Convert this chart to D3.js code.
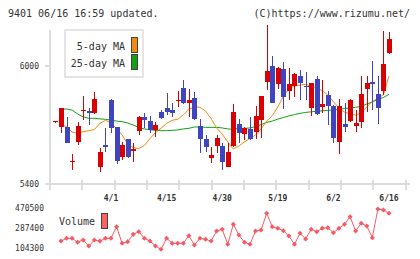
<!DOCTYPE html>
<html>
<head>
<meta charset="utf-8">
<script src="https://cdn.jsdelivr.net/npm/d3@7"></script>
<style>
  body { margin: 0; background: #fff; }
  svg text { font-family: "DejaVu Sans Mono", monospace; fill: #333; }
</style>
</head>
<body>
<div class="chart"></div>
<script>
const width = 420, height = 259;

// candle data, one per trading day (index 0 .. 60)
const opens = [5715, 5688, 5688, 5515, 5615, 5774, 5773, 5759, 5488, 5598,
    5827, 5688, 5536, 5627, 5570, 5669, 5742, 5720, 5675, 5768,
    5788, 5776, 5825, 5887, 5810, 5836, 5695, 5629, 5534, 5593,
    5593, 5488, 5593, 5705, 5654, 5680, 5666, 5725, 5920, 6000,
    5908, 5983, 5874, 5900, 5949, 5897, 5788, 5934, 5793, 5853,
    5797, 5615, 5705, 5720, 5696, 5717, 5885, 5919, 5856, 5874, 6065];
const highs = [5722, 5788, 5739, 5551, 5714, 5847, 5785, 5866, 5582, 5683,
    5830, 5690, 5615, 5630, 5607, 5745, 5759, 5746, 5717, 5776,
    5861, 5810, 5874, 5929, 5883, 5869, 5729, 5649, 5590, 5649,
    5607, 5607, 5807, 5729, 5690, 5739, 5797, 5850, 6208, 6051,
    5995, 6019, 5988, 5962, 5980, 5968, 5915, 5949, 5929, 5873,
    5800, 5832, 5810, 5832, 5776, 5951, 5949, 6025, 5949, 6178, 6174];
const lows = [5712, 5661, 5610, 5471, 5598, 5725, 5700, 5757, 5462, 5564,
    5661, 5502, 5522, 5530, 5510, 5649, 5683, 5658, 5640, 5730,
    5751, 5742, 5793, 5808, 5742, 5725, 5556, 5564, 5505, 5556,
    5471, 5486, 5590, 5607, 5624, 5625, 5627, 5632, 5878, 5810,
    5883, 5780, 5827, 5841, 5827, 5827, 5747, 5752, 5763, 5700,
    5610, 5551, 5666, 5715, 5666, 5686, 5768, 5776, 5704, 5853, 6061];
const closes = [5719, 5785, 5610, 5519, 5695, 5778, 5763, 5831, 5564, 5590,
    5683, 5518, 5598, 5539, 5576, 5742, 5725, 5675, 5700, 5737,
    5768, 5759, 5829, 5810, 5827, 5729, 5627, 5590, 5547, 5632,
    5513, 5564, 5768, 5661, 5686, 5627, 5746, 5847, 5975, 5813,
    5991, 5844, 5908, 5959, 5915, 5893, 5912, 5754, 5807, 5798,
    5635, 5797, 5691, 5827, 5709, 5856, 5912, 5910, 5785, 6009, 6137];

const ma5 = [null, 5705, 5690, 5664, 5658, 5666, 5671, 5677, 5708, 5724,
    5710, 5682, 5649, 5603, 5585, 5580, 5596, 5631, 5661, 5684,
    5708, 5724, 5729, 5751, 5779, 5792, 5790, 5771, 5733, 5685,
    5654, 5614, 5578, 5593, 5614, 5632, 5649, 5680, 5720, 5748,
    5792, 5844, 5886, 5897, 5903, 5907, 5898, 5888, 5875, 5852,
    5819, 5786, 5766, 5756, 5751, 5761, 5792, 5819, 5837, 5853, 5949];
const ma25 = [null, 5782, 5781, 5776, 5756, 5741, 5734, 5734, 5731, 5729,
    5725, 5720, 5717, 5710, 5700, 5687, 5680, 5676, 5673, 5671,
    5671, 5673, 5675, 5680, 5683, 5690, 5690, 5688, 5688, 5688,
    5685, 5680, 5678, 5683, 5683, 5685, 5692, 5702, 5713, 5720,
    5730, 5738, 5746, 5753, 5759, 5764, 5767, 5770, 5772, 5775,
    5776, 5780, 5784, 5786, 5790, 5794, 5807, 5817, 5830, 5840, 5856];

const volumes = [null, 171100, 195800, 195800, 159200, 180000, 125300, 180000, 170000, 195800,
    195800, 302000, 150000, 165000, 232000, 256300, 195800, 171100, 125300, 95000,
    195800, 150000, 150000, 150000, 219600, 134500, 195800, 186700, 171100, 262700,
    278200, 140900, 324000, 226100, 159200, 140900, 262700, 271800, 424700, 302100,
    287400, 265400, 216900, 140900, 241600, 189400, 278200, 256300, 287400, 292900,
    247100, 287400, 324000, 393600, 262700, 333200, 308500, 201300, 464100, 455000, 424700];

const tickIdx = [10, 20, 30, 40, 50, 60];
const tickLabels = ['4/1', '4/15', '4/30', '5/19', '6/2', '6/16'];
const priceTicks = [5400, 6000];
const volumeTicks = [104300, 287400, 470500];

let svg = d3.select('.chart')
    .append('svg')
    .attr('width', width)
    .attr('height', height);

let idx = d3.range(closes.length);
let x = d3.scaleLinear().domain([0, 60]).range([55.4, 389]);
let y = d3.scaleLinear().domain([5400, 6000]).range([184, 66]);
let yv = d3.scaleLinear().domain([104300, 470500]).range([248.3, 208.3]);
let grid = d3.scaleLinear().domain([0, 11]).range([50, 405.7]);

// header texts
svg.append('text').attr('x', 8).attr('y', 16.5)
    .style('font-size', '10px').text('9401 06/16 16:59 updated.');
svg.append('text').attr('x', 410).attr('y', 16.5).attr('text-anchor', 'end')
    .style('font-size', '10px').text('(C)https://www.rizumu.net/');

// frame lines
svg.append('line').attr('x1', 50).attr('x2', 50).attr('y1', 30).attr('y2', 190)
    .attr('stroke', '#ddd').attr('stroke-width', 2);
svg.append('line').attr('x1', 45).attr('x2', 410).attr('y1', 184).attr('y2', 184)
    .attr('stroke', '#ddd').attr('stroke-width', 2);
svg.append('g').selectAll('line')
    .data(d3.range(12))
    .join('line')
    .attr('x1', d => Math.round(grid(d))).attr('x2', d => Math.round(grid(d)))
    .attr('y1', 180).attr('y2', 190)
    .attr('stroke', '#ddd').attr('stroke-width', 2);
svg.append('line').attr('x1', 45).attr('x2', 50).attr('y1', y(6000)).attr('y2', y(6000))
    .attr('stroke', '#ddd').attr('stroke-width', 2);

// price labels
svg.append('g').selectAll('text')
    .data(priceTicks)
    .join('text')
    .attr('x', 39).attr('y', d => y(d) + 3)
    .attr('text-anchor', 'end')
    .style('font-size', '8px')
    .text(d => d);

// date labels
svg.append('g').selectAll('text')
    .data(tickIdx)
    .join('text')
    .attr('x', d => x(d)).attr('y', 201)
    .attr('text-anchor', 'middle')
    .style('font-size', '8px').style('font-weight', 'bold')
    .text((d, i) => tickLabels[i]);

// volume labels
svg.append('g').selectAll('text')
    .data(volumeTicks)
    .join('text')
    .attr('x', 44).attr('y', d => yv(d) + 3)
    .attr('text-anchor', 'end')
    .style('font-size', '8px')
    .text(d => d);

// moving averages
let line = (arr) => d3.line()
    .defined(i => arr[i] != null)
    .x(i => x(i))
    .y(i => y(arr[i]));
svg.append('path').attr('d', line(ma25)(idx))
    .attr('fill', 'none').attr('stroke', '#10a010').attr('stroke-width', 1);
svg.append('path').attr('d', line(ma5)(idx))
    .attr('fill', 'none').attr('stroke', '#f08c10').attr('stroke-width', 1);

// candles
let cg = svg.append('g').attr('shape-rendering', 'crispEdges');
let col = i => closes[i] >= opens[i] ? '#d80000' : '#3f44c0';
cg.selectAll('line')
    .data(idx)
    .join('line')
    .attr('x1', i => Math.round(x(i)) + 0.5).attr('x2', i => Math.round(x(i)) + 0.5)
    .attr('y1', i => y(highs[i])).attr('y2', i => y(lows[i]))
    .attr('stroke', col);
cg.selectAll('rect')
    .data(idx)
    .join('rect')
    .attr('x', i => Math.round(x(i)) - 2)
    .attr('width', 5)
    .attr('y', i => y(Math.max(opens[i], closes[i])))
    .attr('height', i => Math.max(1, Math.abs(y(opens[i]) - y(closes[i]))))
    .attr('fill', col);

// legend
svg.append('rect').attr('x', 65).attr('y', 30).attr('width', 78).attr('height', 47)
    .attr('fill', '#fff').attr('stroke', '#ddd').attr('stroke-width', 1.5);
svg.append('text').attr('x', 125).attr('y', 50).attr('text-anchor', 'end')
    .style('font-size', '10px').text('5-day MA');
svg.append('text').attr('x', 125).attr('y', 66.5).attr('text-anchor', 'end')
    .style('font-size', '10px').text('25-day MA');
svg.append('rect').attr('x', 131.5).attr('y', 37.5).attr('width', 6).attr('height', 15)
    .attr('fill', '#f08c10').attr('stroke', '#444');
svg.append('rect').attr('x', 131.5).attr('y', 54.5).attr('width', 6).attr('height', 15)
    .attr('fill', '#10a010').attr('stroke', '#444');

// volume
svg.append('text').attr('x', 59).attr('y', 225)
    .style('font-size', '10px').text('Volume');
svg.append('rect').attr('x', 101.5).attr('y', 213.5).attr('width', 6).attr('height', 15)
    .attr('fill', '#ff6060').attr('stroke', '#444');
svg.append('path')
    .attr('d', d3.line().defined(i => volumes[i] != null).x(i => x(i)).y(i => yv(volumes[i]))(idx))
    .attr('fill', 'none').attr('stroke', '#f85a64').attr('stroke-width', 1);
svg.append('g').selectAll('path')
    .data(idx.filter(i => volumes[i] != null))
    .join('path')
    .attr('d', d3.symbol(d3.symbolSquare, 13))
    .attr('transform', i => `translate(${x(i)}, ${yv(volumes[i])}) rotate(45)`)
    .attr('fill', '#f85a64');
</script>
</body>
</html>
